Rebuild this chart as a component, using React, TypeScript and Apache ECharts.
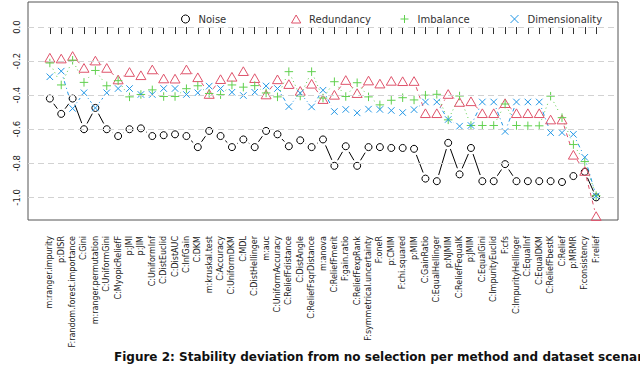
import React, { useEffect, useRef } from "react";
import * as echarts from "echarts";

const categories = [
  "m:ranger.impurity", "p:DISR", "F:random.forest.importance", "C:Gini", "m:ranger.permutation",
  "C:UniformGini", "C:MyopicReliefF", "p:JMI", "p:JIM", "C:UniformInf", "C:DistEuclid", "C:DistAUC",
  "C:InfGain", "C:DKM", "m:kruskal.test", "C:Accuracy", "C:UniformDKM", "C:MDL", "C:DistHellinger",
  "m:auc", "C:UniformAccuracy", "C:ReliefFdistance", "C:DistAngle", "C:ReliefFsqrDistance", "m:anova",
  "C:ReliefFmerit", "F:gain.ratio", "C:ReliefFexpRank", "F:symmetrical.uncertainty", "F:oneR", "p:CMIM",
  "F:chi.squared", "p:MIM", "C:GainRatio", "C:EqualHellinger", "p:NJMIM", "C:ReliefFequalK", "p:JMIM",
  "C:EqualGini", "C:ImpurityEuclid", "F:cfs", "C:ImpurityHellinger", "C:EqualInf", "C:EqualDKM",
  "C:ReliefFbestK", "C:Relief", "p:MRMR", "F:consistency", "F:relief",
];

const noise = [
  -0.42, -0.51, -0.42, -0.60, -0.475, -0.60, -0.64, -0.60, -0.595, -0.64, -0.635, -0.63, -0.64, -0.705,
  -0.61, -0.64, -0.705, -0.66, -0.705, -0.61, -0.63, -0.70, -0.665, -0.705, -0.66, -0.815, -0.70, -0.815,
  -0.705, -0.705, -0.71, -0.71, -0.715, -0.89, -0.905, -0.68, -0.865, -0.71, -0.905, -0.905, -0.805,
  -0.905, -0.905, -0.905, -0.905, -0.91, -0.875, -0.85, -1.0,
];

const redundancy = [
  -0.18, -0.185, -0.17, -0.24, -0.197, -0.24, -0.308, -0.264, -0.283, -0.249, -0.302, -0.303, -0.249,
  -0.295, -0.393, -0.306, -0.292, -0.259, -0.3, -0.396, -0.307, -0.335, -0.375, -0.333, -0.423, -0.398,
  -0.311, -0.388, -0.314, -0.332, -0.316, -0.318, -0.317, -0.506, -0.506, -0.393, -0.44, -0.436, -0.506,
  -0.506, -0.447, -0.506, -0.506, -0.506, -0.543, -0.543, -0.75, -0.845, -1.11,
];

const imbalance = [
  -0.211, -0.34, -0.195, -0.325, -0.255, -0.345, -0.315, -0.41, -0.396, -0.369, -0.408, -0.408, -0.362,
  -0.345, -0.39, -0.397, -0.34, -0.353, -0.344, -0.387, -0.41, -0.262, -0.405, -0.262, -0.417, -0.321,
  -0.408, -0.327, -0.41, -0.457, -0.43, -0.415, -0.428, -0.4, -0.395, -0.545, -0.405, -0.578, -0.578,
  -0.578, -0.452, -0.578, -0.58, -0.58, -0.406, -0.532, -0.69, -0.79, -0.99,
];

const dimensionality = [
  -0.292, -0.259, -0.478, -0.386, -0.475, -0.386, -0.361, -0.361, -0.396, -0.396, -0.361, -0.361, -0.396,
  -0.386, -0.347, -0.361, -0.383, -0.402, -0.383, -0.346, -0.361, -0.467, -0.388, -0.469, -0.371, -0.496,
  -0.484, -0.504, -0.482, -0.484, -0.49, -0.502, -0.485, -0.44, -0.44, -0.543, -0.582, -0.578, -0.44,
  -0.44, -0.613, -0.44, -0.44, -0.44, -0.62, -0.62, -0.63, -0.765, -0.992,
];

const seriesNames = ["Noise", "Redundancy", "Imbalance", "Dimensionality"];
const yTicks = [0, -0.2, -0.4, -0.6, -0.8, -1.0];
const titleText = "Figure 2: Stability deviation from no selection per method and dataset scenario";

const FONT = "DejaVu Sans";
const GAP = 6.5;

const styles = [
  { color: "#000000", symbol: "circle", size: 7, keep: false, dash: "solid" as any, legendX: 185 },
  { color: "#DF536B", symbol: "path://M0,-1L0.866,0.5L-0.866,0.5Z", size: 10, keep: true, dash: [4, 4], legendX: 295 },
  { color: "#61D04F", symbol: "path://M0,-1L0,1M-1,0L1,0", size: 8.5, keep: true, dash: [1, 3], legendX: 404 },
  { color: "#2297E6", symbol: "path://M-1,-1L1,1M-1,1L1,-1", size: 6.5, keep: true, dash: [1, 3, 4, 3], legendX: 514 },
];

export default function App() {
  const ref = useRef<HTMLDivElement>(null);
  useEffect(() => {
    if (!ref.current) return;
    const chart = echarts.init(ref.current, null, { renderer: "svg" });
    const allData = [noise, redundancy, imbalance, dimensionality];
    const idx = categories.map((_, i) => i);

    const lineSeries = allData.map((vals, s) => ({
      type: "custom",
      name: seriesNames[s] + " segments",
      silent: true,
      z: 2,
      data: vals.slice(0, -1).map((v, i) => [i, v, i + 1, vals[i + 1]]),
      encode: { x: [0, 2], y: [1, 3] },
      renderItem: (params: any, api: any) => {
        const p1 = api.coord([api.value(0), api.value(1)]);
        const p2 = api.coord([api.value(2), api.value(3)]);
        const dx = p2[0] - p1[0];
        const dy = p2[1] - p1[1];
        const d = Math.sqrt(dx * dx + dy * dy);
        if (d <= 2 * GAP) return null;
        const ux = dx / d;
        const uy = dy / d;
        return {
          type: "line",
          shape: {
            x1: p1[0] + ux * GAP,
            y1: p1[1] + uy * GAP,
            x2: p2[0] - ux * GAP,
            y2: p2[1] - uy * GAP,
          },
          style: { stroke: styles[s].color, lineWidth: 1, lineDash: styles[s].dash },
        };
      },
      ...(s === 0
        ? {
            markLine: {
              silent: true,
              symbol: "none",
              label: { show: false },
              lineStyle: { color: "#d2d2d2", type: [6, 4], width: 1 },
              data: yTicks.map((t) => ({ yAxis: t })),
            },
          }
        : {}),
    }));

    const pointSeries = allData.map((vals, s) => ({
      type: "scatter",
      name: seriesNames[s],
      z: 3,
      symbol: styles[s].symbol,
      symbolSize: styles[s].size,
      symbolKeepAspect: styles[s].keep,
      itemStyle: { color: "transparent", borderColor: styles[s].color, borderWidth: 1, opacity: 1 },
      data: vals.map((v, i) => [i, v]),
    }));

    const legends = seriesNames.map((n, s) => ({
      data: [
        {
          name: n,
          icon: styles[s].symbol,
          itemStyle: { color: "transparent", borderColor: styles[s].color, borderWidth: 1 },
        },
      ],
      left: styles[s].legendX - 4,
      top: 14,
      padding: 0,
      itemWidth: s === 1 ? 10 : 8,
      itemHeight: 8,
      selectedMode: false,
      itemStyle: { color: "transparent", borderColor: styles[s].color, borderWidth: 1 },
      textStyle: { fontFamily: FONT, fontSize: 10, color: "#333", padding: [0, 0, 0, s === 1 ? 3 : 4] },
    }));

    chart.setOption({
      animation: false,
      backgroundColor: "#ffffff",
      title: {
        text: titleText,
        left: 114,
        top: 351,
        padding: 0,
        textStyle: { fontFamily: FONT, fontSize: 12, fontWeight: "bold", color: "#111" },
      },
      legend: legends,
      grid: {
        left: 28,
        right: 22,
        top: 2,
        bottom: 146,
        show: true,
        borderColor: "#555",
        borderWidth: 1,
        backgroundColor: "transparent",
      },
      xAxis: {
        type: "value",
        min: -1.92,
        max: 49.92,
        offset: 3,
        axisLine: { show: false },
        splitLine: { show: false },
        axisTick: { show: true, length: 7, customValues: idx, lineStyle: { color: "#333" } },
        axisLabel: {
          customValues: idx,
          rotate: 90,
          margin: 13,
          fontFamily: FONT,
          fontSize: 8,
          color: "#1a1a1a",
          formatter: (v: number) => categories[Math.round(v)] ?? "",
        },
      },
      yAxis: {
        type: "value",
        min: -1.133,
        max: 0.147,
        axisLine: { show: false },
        axisTick: { show: false, customValues: yTicks },
        splitLine: { show: false },
        axisLabel: {
          customValues: yTicks,
          rotate: 90,
          margin: 7,
          fontFamily: FONT,
          fontSize: 8.5,
          color: "#1a1a1a",
          formatter: (v: number) => (Math.abs(v) < 1e-9 ? "0.0" : v.toFixed(1)),
        },
      },
      series: [...lineSeries, ...pointSeries],
    } as any);
    return () => chart.dispose();
  }, []);
  return (
    <div
      ref={ref}
      style={{ position: "fixed", left: 0, top: 0, width: 640, height: 366, background: "#fff" }}
    />
  );
}
